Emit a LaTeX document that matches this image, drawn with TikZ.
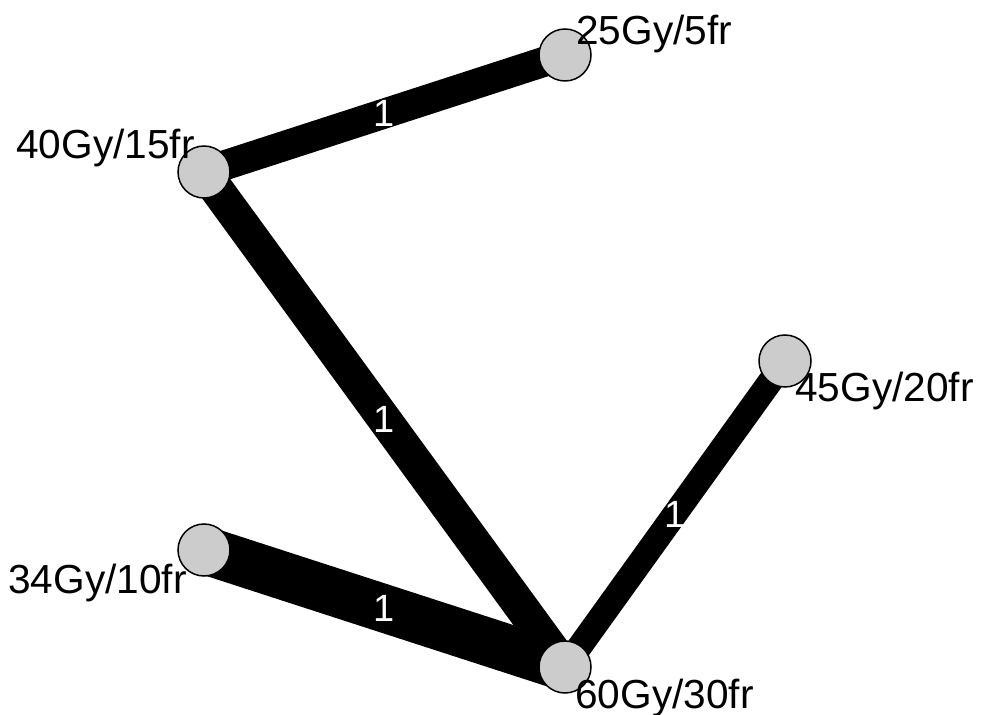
\documentclass[tikz,border=0pt]{standalone}
\usepackage{fontspec}
\setmainfont{Liberation Sans}
\usetikzlibrary{backgrounds}
\definecolor{nodegray}{RGB}{204,204,204}
\tikzset{
	dose/.style = {circle, draw = black, line width = 0.75pt, fill = nodegray, minimum size = 26pt, inner sep = 0pt},
	doselabel/.style = {font = \fontsize{20.3}{24}\selectfont, inner sep = 0pt},
	weight/.style = {text = white, font = \fontsize{19}{23}\selectfont, inner sep = 0pt}
}
\begin{document}
\begin{tikzpicture}[x = 0.5pt, y = -0.5pt]
	\useasboundingbox (0,0) rectangle (990,715);
	\node [dose] (d25) at (565,55) {};
	\node [dose] (d40) at (204,172) {};
	\node [dose] (d45) at (785,361) {};
	\node [dose] (d34) at (204,550) {};
	\node [dose] (d60) at (565,667) {};
	\begin{scope}[on background layer]
	\draw [line width = 15pt] (d40.center) -- (d25.center) node [weight, midway] {1};
	\draw [line width = 17pt] (d40.center) -- (d60.center) node [weight, midway] {1};
	\draw [line width = 24pt] (d34.center) -- (d60.center) node [weight, midway] {1};
	\draw [line width = 12.5pt] (d45.center) -- (d60.center) node [weight, midway] {1};
	\end{scope}
	\node [doselabel, anchor = base west] (l25) at (576,45) {25Gy/5fr};
	\node [doselabel, anchor = base east] (l40) at (195,159) {40Gy/15fr};
	\node [doselabel, anchor = base east] (l34) at (187,593) {34Gy/10fr};
	\node [doselabel, anchor = base west] (l60) at (575,708) {60Gy/30fr};
	\node [doselabel, anchor = base west] (l45) at (795,402) {45Gy/20fr};
\end{tikzpicture}
\end{document}
